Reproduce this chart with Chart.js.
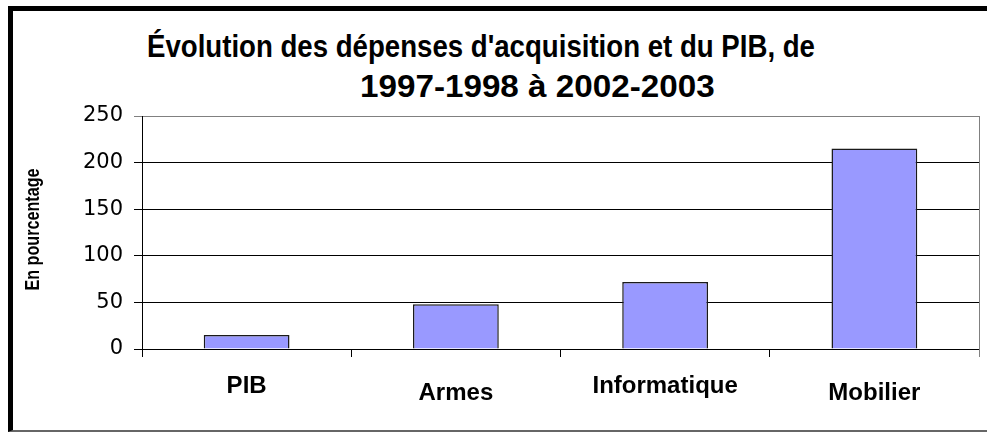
<!DOCTYPE html>
<html>
<head>
<meta charset="utf-8">
<script src="https://cdn.jsdelivr.net/npm/chart.js@4/dist/chart.umd.min.js"></script>
<style>
  html, body { margin: 0; padding: 0; background: #fff; }
  #wrap { position: relative; width: 987px; height: 432px; overflow: hidden; }
  #frame { position: absolute; left: 8px; top: 6px; width: 985px; height: 419px;
           border-left: 5px solid #000; border-top: 5px solid #000; border-bottom: 2px solid #666; }
  .title { position: absolute; font-family: "Liberation Sans", Arial, sans-serif; font-weight: bold;
           font-size: 32px; line-height: 32px; white-space: nowrap; color: #000;
           transform-origin: 0 0; }
  canvas { position: absolute; left: 0; top: 0; }
</style>
</head>
<body>
<div id="wrap">
  <div id="frame"></div>
  <div class="title" data-w="668" style="left:147px; top:30px;">Évolution des dépenses d'acquisition et du PIB, de</div>
  <div class="title" data-w="355" style="left:360px; top:70px;">1997-1998 à 2002-2003</div>
  <canvas id="chart" width="987" height="432"></canvas>
</div>
<script>
// Chart data
const categories = ['PIB', 'Armes', 'Informatique', 'Mobilier'];
const growthPercent = [15, 48, 72, 215];
const yTicks = [0, 50, 100, 150, 200, 250];
const yAxisTitle = 'En pourcentage';

const boldFont = 'bold 24px "Liberation Sans", Arial, sans-serif';

// squeeze the title lines to look like the condensed original
document.querySelectorAll('.title').forEach(el => {
    const target = Number(el.dataset.w);
    el.style.transform = `scaleX(${target / el.offsetWidth})`;
});

// gray right edge of plot area, staggered category labels, narrow y title
const extras = {
    id: 'extras',
    beforeDatasetsDraw(chart) {
        const { ctx, chartArea } = chart;
        ctx.save();
        ctx.strokeStyle = '#808080';
        ctx.lineWidth = 1;
        ctx.beginPath();
        ctx.moveTo(chartArea.right + 0.5, chartArea.top);
        ctx.lineTo(chartArea.right + 0.5, chartArea.bottom + 8);
        ctx.stroke();
        ctx.restore();
    },
    afterDraw(chart) {
        const { ctx, chartArea, scales } = chart;
        ctx.save();
        ctx.fillStyle = '#000';

        // category labels, every other one dropped a little (like the original)
        ctx.font = boldFont;
        ctx.textAlign = 'center';
        ctx.textBaseline = 'alphabetic';
        categories.forEach((label, i) => {
            const x = scales.x.getPixelForTick(i);
            const y = chartArea.bottom + 44 + (i % 2) * 7;
            ctx.fillText(label, x, y);
        });

        // rotated axis title, compressed along its length
        ctx.font = 'bold 21px "Liberation Sans", Arial, sans-serif';
        const w = ctx.measureText(yAxisTitle).width;
        ctx.translate(33, (chartArea.top + chartArea.bottom) / 2 - 3);
        ctx.rotate(-Math.PI / 2);
        ctx.scale(122 / w, 1);
        ctx.textBaseline = 'middle';
        ctx.fillText(yAxisTitle, 0, 0);
        ctx.restore();
    }
};

const ctx = document.getElementById('chart').getContext('2d');
new Chart(ctx, {
    type: 'bar',
    data: {
        labels: categories,
        datasets: [{
            data: growthPercent,
            backgroundColor: '#9999FF',
            borderColor: '#1a1a1a',
            borderWidth: 1.5,
            barPercentage: 0.41,
            categoryPercentage: 1
        }]
    },
    options: {
        responsive: false,
        animation: false,
        layout: { padding: { left: 0, top: 116, right: 8, bottom: 0 } },
        plugins: {
            legend: { display: false },
            tooltip: { enabled: false },
            title: { display: false }
        },
        scales: {
            x: {
                grid: {
                    offset: true,
                    drawOnChartArea: false,
                    drawTicks: true,
                    tickLength: 8,
                    color: '#000'
                },
                border: { display: true, color: '#000', width: 1 },
                ticks: { display: false },
                afterFit(scale) { scale.height = 83; }
            },
            y: {
                min: 0,
                max: 250,
                afterBuildTicks(scale) { scale.ticks = yTicks.map(v => ({ value: v })); },
                grid: {
                    color: c => (c.tick && c.tick.value === 250 ? '#808080' : '#000'),
                    tickLength: 8,
                    lineWidth: 1
                },
                border: { display: true, color: '#000', width: 1 },
                ticks: {
                    color: '#000',
                    padding: 11,
                    font: { family: '"DejaVu Sans", sans-serif', size: 21 }
                },
                afterFit(scale) { scale.width = 142; }
            }
        }
    },
    plugins: [extras]
});
</script>
</body>
</html>
